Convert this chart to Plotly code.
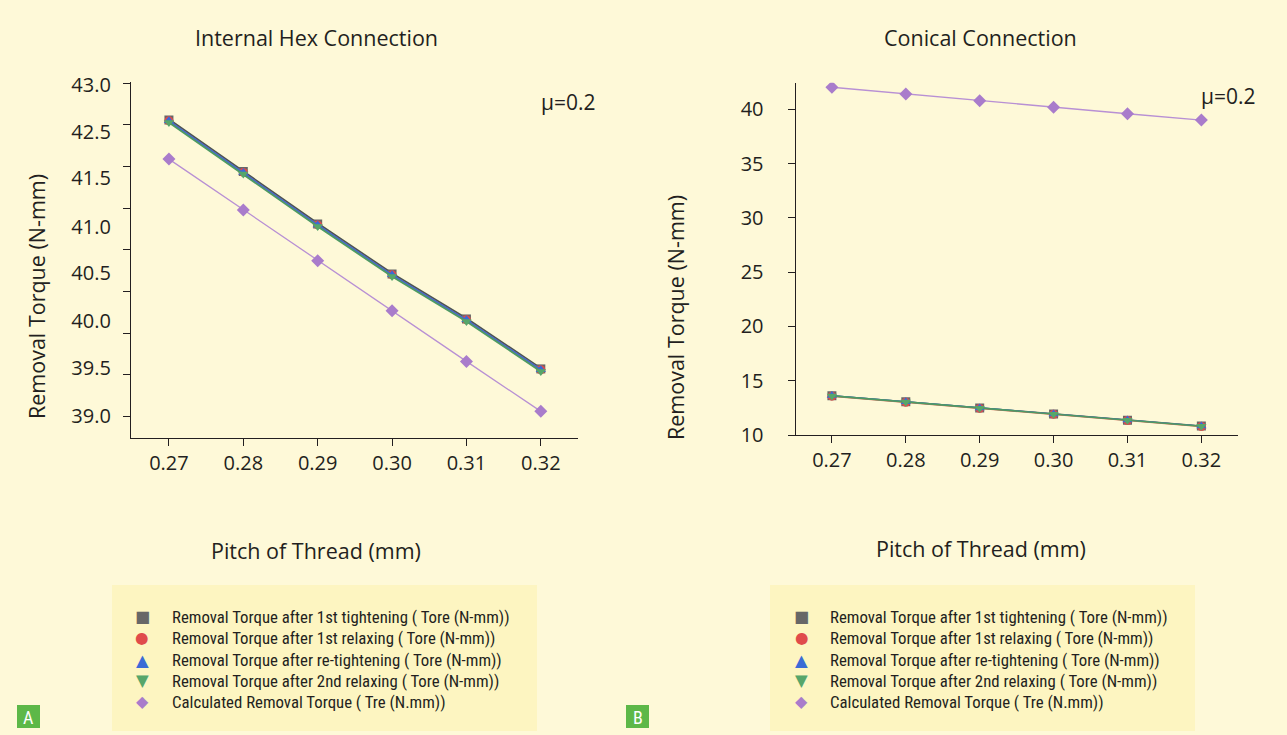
import plotly.graph_objects as go

W, H = 1287, 735

# ---------------- data ----------------
pitch = [0.27, 0.28, 0.29, 0.30, 0.31, 0.32]
pitch_labels = ["0.27", "0.28", "0.29", "0.30", "0.31", "0.32"]

series_names = [
    "Removal Torque after 1st tightening ( Tore (N-mm))",
    "Removal Torque after 1st relaxing ( Tore (N-mm))",
    "Removal Torque after re-tightening ( Tore (N-mm))",
    "Removal Torque after 2nd relaxing ( Tore (N-mm))",
    "Calculated Removal Torque ( Tre (N.mm))",
]
legend_glyphs = ["■", "●", "▲", "▼", "◆"]

# Internal Hex Connection (A)
hex_1st_tightening = [42.56, 41.94, 41.31, 40.71, 40.17, 39.57]
hex_1st_relaxing = [42.55, 41.93, 41.30, 40.70, 40.16, 39.56]
hex_re_tightening = [42.55, 41.93, 41.30, 40.70, 40.16, 39.56]
hex_2nd_relaxing = [42.53, 41.91, 41.28, 40.68, 40.14, 39.54]
hex_calculated = [42.09, 41.48, 40.87, 40.27, 39.66, 39.06]

# Conical Connection (B)
con_1st_tightening = [13.62, 13.06, 12.48, 11.93, 11.37, 10.82]
con_1st_relaxing = [13.58, 13.02, 12.45, 11.90, 11.34, 10.78]
con_re_tightening = [13.63, 13.07, 12.49, 11.94, 11.38, 10.83]
con_2nd_relaxing = [13.60, 13.04, 12.47, 11.92, 11.36, 10.81]
con_calculated = [42.03, 41.41, 40.79, 40.18, 39.59, 39.01]

# tick labels as printed in the source (left panel labels are misprinted)
hex_tick_values = [39.0, 39.5, 40.0, 40.5, 41.0, 41.5, 42.0, 42.5, 43.0]
hex_label_positions = [42.98, 42.42, 41.86, 41.28, 40.72, 40.14, 39.58, 39.0]
hex_label_texts = ["43.0", "42.5", "41.5", "41.0", "40.5", "40.0", "39.5", "39.0"]
con_tick_values = [10, 15, 20, 25, 30, 35, 40]
con_tick_texts = ["10", "15", "20", "25", "30", "35", "40"]

# ---------------- styling ----------------
BG = "#FEF9D8"
LEG_BG = "#FDF5C1"
TXT = "#231F20"
FONT = "Open Sans, Noto Sans, sans-serif"
NARROW = "Liberation Sans Narrow, Arial Narrow, Roboto Condensed, Liberation Sans, sans-serif"
GLYPH = "DejaVu Sans, sans-serif"

colors = ["#676767", "#E04B4B", "#3A6BD6", "#57A66A", "#A97CCB"]
line_colors = ["#4A5553", "#E06A5A", "#3A6BD6", "#4E9A63", "#B890D4"]
symbols = ["square", "circle", "triangle-up", "triangle-down", "diamond"]
glyph_sizes = [16, 15.5, 16.5, 16.5, 16]

fig = go.Figure()

def add_panel(ys, xa, ya, widths):
    for i, y in enumerate(ys):
        is_calc = i == 4
        fig.add_trace(go.Scatter(
            x=pitch, y=y, mode="lines+markers", xaxis=xa, yaxis=ya,
            showlegend=False, name=series_names[i],
            line=dict(color=line_colors[i], width=widths[i]),
            marker=dict(symbol=symbols[i], size=10 if is_calc else 9, color=colors[i]),
        ))

add_panel([hex_1st_tightening, hex_1st_relaxing, hex_re_tightening, hex_2nd_relaxing, hex_calculated],
          "x", "y", [3.0, 1.5, 1.5, 1.8, 1.3])
add_panel([con_1st_tightening, con_1st_relaxing, con_re_tightening, con_2nd_relaxing, con_calculated],
          "x2", "y2", [1.5, 1.5, 1.2, 1.6, 1.3])

def px(x):
    return x / W

def py(y):
    return 1 - y / H

axis_common = dict(
    showgrid=False, zeroline=False, showline=True, linecolor=TXT, linewidth=1.3,
    ticks="outside", ticklen=7, tickcolor=TXT, tickwidth=1.3, automargin=False,
    tickfont=dict(family=FONT, size=20, color=TXT),
)

fig.update_layout(
    width=W, height=H, autosize=False,
    margin=dict(l=0, r=0, t=0, b=0, pad=0, autoexpand=False),
    paper_bgcolor=BG, plot_bgcolor=BG,
    font=dict(family=FONT, color=TXT),
    showlegend=False,
    xaxis=dict(domain=[px(131), px(578)], range=[0.2649, 0.3250], anchor="y",
               tickvals=pitch, ticktext=pitch_labels, **axis_common),
    yaxis=dict(domain=[py(438), py(81.7)], range=[38.74, 43.02], anchor="x",
               tickvals=hex_label_positions, ticktext=hex_label_texts,
               showgrid=False, zeroline=False, showline=True, linecolor=TXT, linewidth=1.3,
               ticks="", ticklabelstandoff=15, automargin=False,
               tickfont=dict(family=FONT, size=20, color=TXT),
               minor=dict(tickvals=hex_tick_values, ticks="outside", ticklen=7,
                          tickcolor=TXT, tickwidth=1.3, showgrid=False)),
    xaxis2=dict(domain=[px(795.7), px(1238.3)], range=[0.2651, 0.3250], anchor="y2",
                tickvals=pitch, ticktext=pitch_labels, **axis_common),
    yaxis2=dict(domain=[py(435), py(82.7)], range=[10, 42.45], anchor="x2",
                tickvals=con_tick_values, ticktext=con_tick_texts,
                ticklabelstandoff=20, **axis_common),
    shapes=[
        dict(type="rect", xref="paper", yref="paper", x0=px(112), x1=px(537),
             y0=py(731), y1=py(585), fillcolor=LEG_BG, line=dict(width=0), layer="below"),
        dict(type="rect", xref="paper", yref="paper", x0=px(770), x1=px(1195),
             y0=py(731), y1=py(585), fillcolor=LEG_BG, line=dict(width=0), layer="below"),
        dict(type="rect", xref="paper", yref="paper", x0=px(17), x1=px(40),
             y0=py(728), y1=py(705), fillcolor="#5DB848", line=dict(width=0)),
        dict(type="rect", xref="paper", yref="paper", x0=px(626), x1=px(649),
             y0=py(728), y1=py(705), fillcolor="#5DB848", line=dict(width=0)),
    ],
)

ann = []
def add_text(text, x, y, size, angle=0, color=TXT, family=FONT, xanchor="center"):
    ann.append(dict(text=text, x=px(x), y=py(y), xref="paper", yref="paper",
                    showarrow=False, xanchor=xanchor, yanchor="middle",
                    textangle=angle, font=dict(family=family, size=size, color=color)))

add_text("Internal Hex Connection", 316, 37, 21.5)
add_text("Conical Connection", 981, 37, 21.5)
add_text("Pitch of Thread (mm)", 316, 550, 21.5)
add_text("Pitch of Thread (mm)", 981, 548, 21.5)
add_text("Removal Torque (N-mm)", 37, 297, 21.5, angle=-90)
add_text("Removal Torque (N-mm)", 675, 318, 21.5, angle=-90)
add_text("μ=0.2", 568, 102, 21)
add_text("μ=0.2", 1228, 96, 21)
add_text("A", 28.5, 717, 18, color="white", family=NARROW)
add_text("B", 637.5, 717, 18, color="white", family=NARROW)

# legends (marker glyph + label), one per panel
legend_rows = [616.7, 638.3, 660.0, 680.7, 701.7]
for sym_x, txt_x in [(142.3, 169.5), (801.7, 828.0)]:
    for i, name in enumerate(series_names):
        add_text(legend_glyphs[i], sym_x, legend_rows[i], glyph_sizes[i],
                 color=colors[i], family=GLYPH)
        add_text(name, txt_x, legend_rows[i], 16.8, family=NARROW, xanchor="left")

fig.update_layout(annotations=ann)

fig.write_html("out.html", config={"displayModeBar": False},
               post_script="document.body.style.margin='0';")
